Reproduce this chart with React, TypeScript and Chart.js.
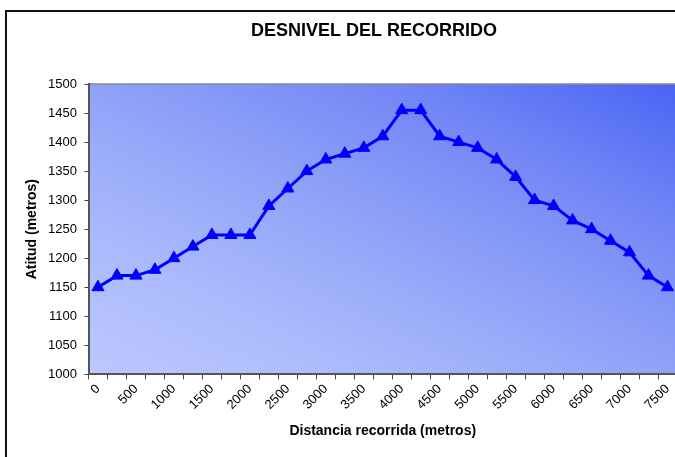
import React, { useEffect, useRef } from 'react';
import { Chart, registerables } from 'chart.js';

Chart.register(...registerables);

// Categories: distance along the route (metres), one point every 250 m
const distances = [
  '0', '250', '500', '750', '1000', '1250', '1500', '1750', '2000', '2250',
  '2500', '2750', '3000', '3250', '3500', '3750', '4000', '4250', '4500', '4750',
  '5000', '5250', '5500', '5750', '6000', '6250', '6500', '6750', '7000', '7250', '7500',
];

// Altitude (metres) at each distance
const altitudes = [
  1150, 1170, 1170, 1180, 1200, 1220, 1240, 1240, 1240, 1290,
  1320, 1350, 1370, 1380, 1390, 1410, 1455, 1455, 1410, 1400,
  1390, 1370, 1340, 1300, 1290, 1265, 1250, 1230, 1210, 1170, 1150,
];

// Tick labels that are printed on the x axis
const shownDistanceLabels = [
  '0', '500', '1000', '1500', '2000', '2500', '3000', '3500',
  '4000', '4500', '5000', '5500', '6000', '6500', '7000', '7500',
];

const yMin = 1000;
const yMax = 1500;
const yStep = 50;

const chartTitle = 'DESNIVEL DEL RECORRIDO';
const yAxisTitle = 'Atitud (metros)';
const xAxisTitle = 'Distancia recorrida (metros)';

const FONT = "Arial, 'Liberation Sans', sans-serif";

const plotBackground = {
  id: 'plotBackground',
  beforeDraw(chart: any) {
    const { ctx, chartArea } = chart;
    if (!chartArea) return;
    const { left, top, right, bottom } = chartArea;
    const W = right - left;
    const H = bottom - top;
    const D = Math.sqrt(W * W + H * H);
    const nx = H / D;
    const ny = -W / D;
    const k = (W * H) / D;
    const cx = (left + right) / 2;
    const cy = (top + bottom) / 2;
    const g = ctx.createLinearGradient(cx - nx * k, cy - ny * k, cx + nx * k, cy + ny * k);
    g.addColorStop(0, '#bcc8fe');
    g.addColorStop(0.25, '#aab9fc');
    g.addColorStop(0.5, '#8fa2f8');
    g.addColorStop(0.75, '#7287f6');
    g.addColorStop(1, '#4a64f4');
    ctx.save();
    ctx.fillStyle = g;
    ctx.fillRect(left, top, W, H);
    ctx.strokeStyle = '#8a8a8a';
    ctx.lineWidth = 1.5;
    ctx.beginPath();
    ctx.moveTo(left, top);
    ctx.lineTo(right, top);
    ctx.lineTo(right, bottom);
    ctx.stroke();
    ctx.restore();
  },
};

const frameTitle = {
  id: 'frameTitle',
  afterDraw(chart: any) {
    const { ctx } = chart;
    ctx.save();
    ctx.fillStyle = '#000';
    ctx.font = `bold 18px ${FONT}`;
    ctx.textAlign = 'center';
    ctx.textBaseline = 'middle';
    ctx.fillText(chartTitle, 374, 31);
    ctx.restore();
  },
};

export default function App() {
  const canvasRef = useRef<HTMLCanvasElement | null>(null);

  useEffect(() => {
    if (!canvasRef.current) return;
    const chart = new Chart(canvasRef.current, {
      type: 'line',
      data: {
        labels: distances,
        datasets: [
          {
            data: altitudes,
            borderColor: '#0000ff',
            backgroundColor: '#0000ff',
            borderWidth: 3,
            pointStyle: 'triangle',
            pointRadius: 7,
            pointBorderWidth: 1,
            pointBorderColor: '#0000ff',
            pointBackgroundColor: '#0000ff',
            tension: 0,
            fill: false,
            clip: false as any,
          },
        ],
      },
      options: {
        animation: false,
        responsive: false,
        maintainAspectRatio: false,
        layout: { padding: { left: 0, right: 71, top: 84, bottom: 25.7 } },
        plugins: {
          legend: { display: false },
          tooltip: { enabled: false },
          title: { display: false },
        },
        scales: {
          x: {
            type: 'category',
            offset: true,
            afterFit(scale: any) {
              scale.height = 70;
            },
            grid: {
              offset: true,
              drawOnChartArea: false,
              drawTicks: true,
              tickLength: 5,
              color: '#444',
              lineWidth: 1,
            },
            border: { display: true, color: '#555', width: 2 },
            ticks: {
              autoSkip: false,
              minRotation: 45,
              maxRotation: 45,
              padding: 2,
              color: '#000',
              font: { family: FONT, size: 13 },
              callback(_v: any, idx: number) {
                const lbl = distances[idx];
                return shownDistanceLabels.includes(lbl) ? lbl : '';
              },
            },
            title: {
              display: true,
              text: xAxisTitle,
              color: '#000',
              font: { family: FONT, size: 14, weight: 'bold' },
              padding: { top: 0, bottom: 5 },
            },
          },
          y: {
            min: yMin,
            max: yMax,
            afterFit(scale: any) {
              scale.width = 88.5;
            },
            grid: {
              drawOnChartArea: false,
              drawTicks: true,
              tickLength: 4,
              color: '#444',
            },
            border: { display: true, color: '#555', width: 2 },
            ticks: {
              stepSize: yStep,
              padding: 7.5,
              color: '#000',
              font: { family: FONT, size: 13 },
              callback(v: any) {
                return String(v);
              },
            },
            title: {
              display: true,
              text: yAxisTitle,
              color: '#000',
              font: { family: FONT, size: 14, weight: 'bold' },
              padding: { top: 24, bottom: 0 },
            },
          },
        },
      },
      plugins: [plotBackground, frameTitle],
    });
    return () => chart.destroy();
  }, []);

  return (
    <div
      style={{
        position: 'fixed',
        left: 0,
        top: 0,
        width: 675,
        height: 457,
        overflow: 'hidden',
        background: '#fff',
      }}
    >
      <div
        style={{
          position: 'absolute',
          left: 5,
          top: 10,
          width: 720,
          height: 480,
          border: '2px solid #111',
          boxSizing: 'border-box',
        }}
      />
      <canvas
        ref={canvasRef}
        width={748}
        height={470}
        style={{ position: 'absolute', left: 0, top: 0, width: 748, height: 470 }}
      />
    </div>
  );
}
